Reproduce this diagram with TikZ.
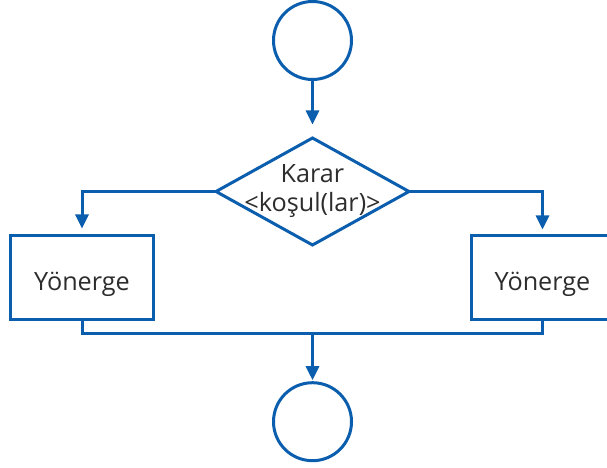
\documentclass[tikz,border=0pt]{standalone}
\usepackage{fontspec}
\setmainfont{Open Sans}
\usetikzlibrary{shapes.geometric,arrows.meta}
\definecolor{flowblue}{RGB}{10,94,173}
\definecolor{flowtext}{RGB}{45,45,45}
\begin{document}
\begin{tikzpicture}[x=1bp,y=-1bp,
  every node/.style={outer sep=0pt},
  shp/.style={draw=flowblue, line width=3bp, fill=white},
  terminal/.style={shp, circle, minimum size=78bp, inner sep=0pt},
  decision/.style={shp, diamond, minimum width=193bp, minimum height=107bp, inner sep=0pt},
  instr/.style={shp, rectangle, minimum width=142bp, minimum height=84bp, inner sep=0pt,
     text height=25bp, text depth=0bp},
  lbl/.style={text=flowtext, font=\fontsize{25.2bp}{28.5bp}\selectfont},
  conn/.style={draw=flowblue, line width=3bp},
  arr/.style={conn, -{Triangle[length=14bp,width=13bp]}}
]
\useasboundingbox (0,0) rectangle (607,468);
\node[terminal] (start) at (312.5,40.5) {};
\node[decision] (dec) at (312.5,191.5) {};
\node[lbl, align=center] (dectext) at (312.5,191) {Karar\\<koşul(lar)>};
\node[instr, lbl] (left) at (82,277.5) {Yönerge};
\node[instr, lbl] (right) at (542.5,277.5) {Yönerge};
\coordinate (join) at (312.5,333.3);
\node[terminal] (stop) at (312.5,421.7) {};

\draw[arr, shorten >=13.5bp] (start) -- (dec);
\draw[arr, shorten >=7bp] (dec.west) -| (left);
\draw[arr, shorten >=6bp] (dec.east) -| (right);
\draw[conn] (left) |- (join) -| (right);
\draw[arr, shorten >=2.5bp] (join) -- (stop);
\end{tikzpicture}
\end{document}
